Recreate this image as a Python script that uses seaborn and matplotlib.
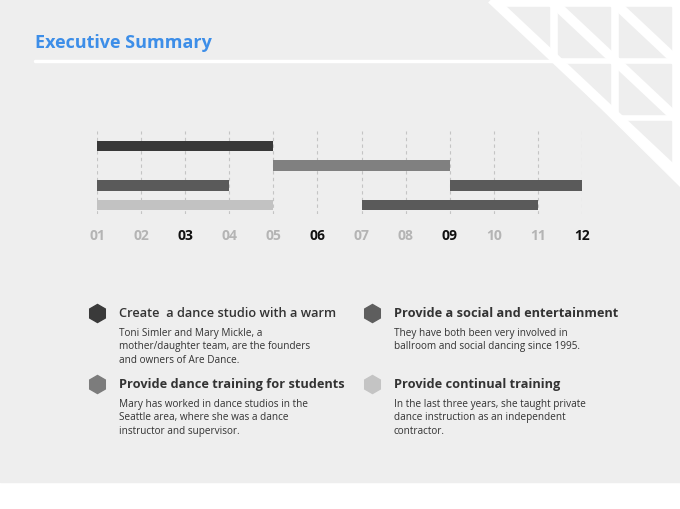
import matplotlib.pyplot as plt
import seaborn as sns
from matplotlib.patches import Polygon, Rectangle

# Datos del diagrama (fila, mes de inicio, mes de fin)
fila = [0, 1, 2, 2, 3, 3]
inicio = [1, 5, 1, 9, 1, 7]
fin = [5, 9, 4, 12, 5, 11]
colores_barras = ["#383838", "#808080", "#5a5a5a", "#5a5a5a", "#c2c2c2", "#5a5a5a"]

meses = ["01", "02", "03", "04", "05", "06", "07", "08", "09", "10", "11", "12"]
meses_destacados = ["03", "06", "09", "12"]

titulos = ["Create  a dance studio with a warm",
           "Provide a social and entertainment",
           "Provide dance training for students",
           "Provide continual training"]
textos = ["Toni Simler and Mary Mickle, a\nmother/daughter team, are the founders\nand owners of Are Dance.",
          "They have both been very involved in\nballroom and social dancing since 1995.",
          "Mary has worked in dance studios in the\nSeattle area, where she was a dance\ninstructor and supervisor.",
          "In the last three years, she taught private\ndance instruction as an independent\ncontractor."]
colores_hex = ["#3a3a3a", "#5e5e5e", "#7c7c7c", "#c4c4c4"]

sns.set_theme(style="white")
plt.rcParams['font.family'] = ['Open Sans', 'DejaVu Sans']

fig = plt.figure(figsize=(6.8, 5.1), dpi=100)
fig.patch.set_facecolor("white")

# Capa de fondo en coordenadas de pixeles
deco = fig.add_axes([0, 0, 1, 1])
deco.set_xlim(0, 680)
deco.set_ylim(510, 0)
deco.axis("off")
deco.add_patch(Rectangle((0, 0), 680, 483, color="#eeeeee", zorder=0))

# triangulo blanco de la esquina
pend = 0.94
deco.add_patch(Polygon([(491, 0), (680, 0), (680, 187)], color="white", zorder=1))
esquina = Polygon([(497, 0), (680, 0), (680, 180)], closed=True, visible=False)
deco.add_patch(esquina)
for cx in [497, 558, 619]:
    for cy in [8, 65, 122]:
        r = Rectangle((cx, cy), 52, 50, color="#eeeeee", zorder=2)
        deco.add_patch(r)
        r.set_clip_path(esquina)
for x0 in [500, 558, 619]:
    deco.plot([x0 - 20, x0 + 200], [8 - 20 * pend, 8 + 200 * pend], color="white", lw=7, zorder=3,
              solid_capstyle="butt")

# linea bajo el titulo
deco.plot([35, 562], [62, 62], color="white", lw=2.5, zorder=3)
deco.text(35, 43, "Executive Summary", color="#3d8ee8", fontsize=13, fontweight="bold",
          va="center", ha="left", zorder=4)

# Lista de puntos con hexagonos
pos = [(97, 314), (372, 314), (97, 385), (372, 385)]
for i, (px, py) in enumerate(pos):
    deco.plot(px, py, marker="h", markersize=13, color=colores_hex[i], zorder=4)
    peso = "semibold" if i == 0 else "bold"
    deco.text(px + 22, py, titulos[i], fontsize=9.2, fontweight=peso, color="#333333",
              va="center", ha="left", zorder=4)
    deco.text(px + 22, py + 14, textos[i], fontsize=7.2, color="#333333", va="top", ha="left",
              linespacing=1.3, zorder=4)

# Grafico de Gantt
ax = fig.add_axes([97 / 680, 1 - 215 / 510, (582 - 97) / 680, (215 - 132) / 510])
ax.set_facecolor("none")
ax.barh(fila, [f - s for s, f in zip(inicio, fin)], left=inicio, height=0.54,
        color=colores_barras, edgecolor="none", linewidth=0, zorder=3)
ax.set_xlim(1, 12)
ax.set_ylim(3.46, -0.76)
ax.set_yticks([])
ax.set_xticks(range(1, 13))
ax.set_xticklabels(meses, fontsize=10, fontweight="bold")
for lbl in ax.get_xticklabels():
    lbl.set_color("#111111" if lbl.get_text() in meses_destacados else "#b4b4b4")
ax.tick_params(axis="x", length=0, pad=10)
ax.grid(axis="x", color="#c4c4c4", linestyle=(0, (3, 3)), linewidth=0.8)
ax.grid(axis="y", visible=False)
for s in ax.spines.values():
    s.set_visible(False)

fig.savefig("out.png", dpi=100)
